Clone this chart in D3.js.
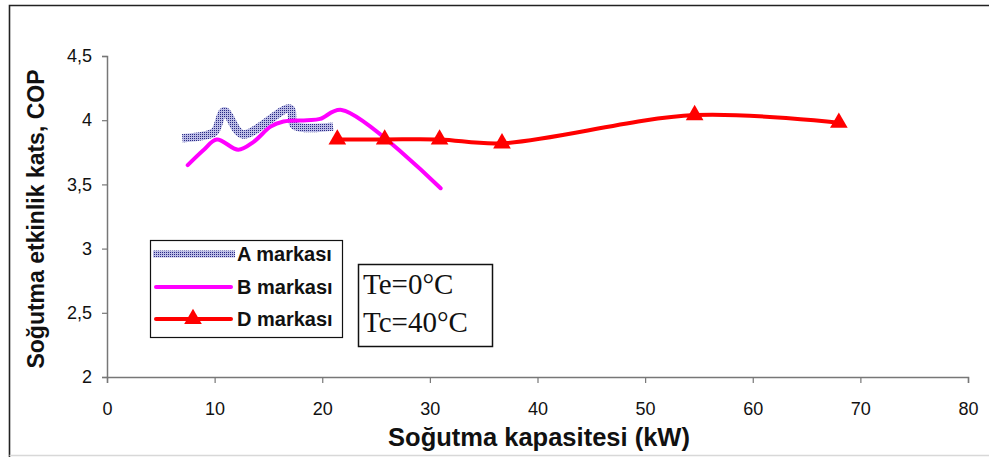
<!DOCTYPE html>
<html>
<head>
<meta charset="utf-8">
<script src="https://cdn.jsdelivr.net/npm/d3@7"></script>
<style>
  html, body { margin: 0; padding: 0; background: #fff; }
  svg { display: block; font-family: "Liberation Sans", Arial, sans-serif; }
</style>
</head>
<body>
<div id="chart"></div>
<script>
// Cooling capacity (kW) vs. COP for three compressor brands
const capA = [7.0, 9.0, 10.0, 10.9, 12.6, 17.0, 17.4, 21.0];
const copA = [3.86, 3.88, 3.91, 4.07, 3.89, 4.09, 3.96, 3.95];

const capB = [7.5, 9.0, 10.2, 12.2, 13.6, 15.2, 16.4, 18.6, 19.8, 21.8, 31.0];
const copB = [3.65, 3.77, 3.85, 3.77, 3.83, 3.95, 3.99, 4.00, 4.01, 4.08, 3.47];

const capD = [21.4, 25.8, 30.9, 36.7, 54.6, 68.0];
const copD = [3.85, 3.85, 3.85, 3.82, 4.04, 3.98];

const xTicks = [0, 10, 20, 30, 40, 50, 60, 70, 80];
const yTicks = [2, 2.5, 3, 3.5, 4, 4.5];

const seriesNames = ["A markası", "B markası", "D markası"];
const conditionLines = ["Te=0°C", "Tc=40°C"];
const xTitle = "Soğutma kapasitesi (kW)";
const yTitle = "Soğutma etkinlik kats, COP";

const W = 989, H = 457;
const SANS = "'Liberation Sans', Arial, sans-serif";
const SERIF = "'Liberation Serif', 'Times New Roman', serif";
const svg = d3.select("#chart").append("svg").attr("width", W).attr("height", H);

// dotted fill used for the A series band
const defs = svg.append("defs");
const pat = defs.append("pattern").attr("id", "dotsA")
  .attr("patternUnits", "userSpaceOnUse").attr("width", 2).attr("height", 2);
pat.append("rect").attr("width", 2).attr("height", 2).attr("fill", "#bcbde6");
pat.append("rect").attr("width", 1).attr("height", 1).attr("fill", "#2a2a84");

// outer frame
svg.append("path").attr("d", `M9.5,${H} V5.5 H${W}`)
  .attr("fill", "none").attr("stroke", "#222").attr("stroke-width", 1.6);
svg.append("line").attr("x1", 9.5).attr("x2", W).attr("y1", 455.5).attr("y2", 455.5)
  .attr("stroke", "#d8d8d8").attr("stroke-width", 1.5);

const x = d3.scaleLinear().domain([0, 80]).range([107, 968]);
const y = d3.scaleLinear().domain([2, 4.5]).range([377, 56]);

const fmt = v => String(v).replace(".", ",");

const gx = svg.append("g").attr("transform", `translate(0,${y(2)})`)
  .call(d3.axisBottom(x).tickValues(xTicks).tickSize(6).tickPadding(19).tickFormat(fmt));
const gy = svg.append("g").attr("transform", `translate(${x(0)},0)`)
  .call(d3.axisLeft(y).tickValues(yTicks).tickSize(5).tickPadding(10).tickFormat(fmt));
[gx, gy].forEach(g => {
  g.attr("font-family", null).attr("font-size", null);
  g.select(".domain").attr("stroke", "#777").attr("stroke-width", 1.5);
  g.selectAll(".tick line").attr("stroke", "#777").attr("stroke-width", 1.2);
  g.selectAll(".tick text").attr("fill", "#111").style("font-family", SANS);
});
gx.selectAll(".tick text").style("font-size", "18px");
gy.selectAll(".tick text").style("font-size", "18px");

// axis titles
svg.append("text").attr("x", 539).attr("y", 446).attr("text-anchor", "middle")
  .style("font-family", SANS).style("font-size", "25.5px").style("font-weight", "bold")
  .attr("fill", "#111").text(xTitle);
svg.append("text").attr("transform", "translate(44,219) rotate(-90)")
  .attr("text-anchor", "middle").style("font-family", SANS).style("font-size", "23px")
  .style("font-weight", "bold").attr("fill", "#111").text(yTitle);

const line = d3.line().x(d => x(d[0])).y(d => y(d[1])).curve(d3.curveCatmullRom.alpha(0.5));
const dataA = capA.map((c, i) => [c, copA[i]]);
const dataB = capB.map((c, i) => [c, copB[i]]);
const dataD = capD.map((c, i) => [c, copD[i]]);

svg.append("path").datum(dataA).attr("d", line).attr("fill", "none")
  .attr("stroke", "url(#dotsA)").attr("stroke-width", 8.5);
svg.append("path").datum(dataB).attr("d", line).attr("fill", "none")
  .attr("stroke", "#ff00ff").attr("stroke-width", 4).attr("stroke-linecap", "round");
svg.append("path").datum(dataD).attr("d", line).attr("fill", "none")
  .attr("stroke", "#ff0000").attr("stroke-width", 4);

const tri = d3.symbol().type(d3.symbolTriangle).size(135);
svg.append("g").selectAll("path").data(dataD).join("path")
  .attr("transform", d => `translate(${x(d[0])},${y(d[1])})`)
  .attr("d", tri).attr("fill", "#ff0000");

// legend
const lg = svg.append("g");
lg.append("rect").attr("x", 150.5).attr("y", 240.5).attr("width", 192).attr("height", 97)
  .attr("fill", "#fff").attr("stroke", "#111").attr("stroke-width", 1.2);
const rows = [254, 287, 319];
lg.append("line").attr("x1", 153).attr("x2", 235).attr("y1", rows[0]).attr("y2", rows[0])
  .attr("stroke", "url(#dotsA)").attr("stroke-width", 7);
lg.append("line").attr("x1", 156).attr("x2", 231).attr("y1", rows[1]).attr("y2", rows[1])
  .attr("stroke", "#ff00ff").attr("stroke-width", 4).attr("stroke-linecap", "round");
lg.append("line").attr("x1", 156).attr("x2", 231).attr("y1", rows[2]).attr("y2", rows[2])
  .attr("stroke", "#ff0000").attr("stroke-width", 4).attr("stroke-linecap", "round");
lg.append("path").attr("transform", `translate(193,${rows[2]})`).attr("d", tri).attr("fill", "#ff0000");
seriesNames.forEach((n, i) => {
  lg.append("text").attr("x", 237).attr("y", rows[i] + 7)
    .style("font-family", SANS).style("font-size", "20px").style("font-weight", "bold")
    .attr("fill", "#111").text(n);
});

// operating conditions box
const cb = svg.append("g");
cb.append("rect").attr("x", 358.5).attr("y", 264.5).attr("width", 134).attr("height", 82)
  .attr("fill", "#fff").attr("stroke", "#111").attr("stroke-width", 1.5);
conditionLines.forEach((t, i) => {
  cb.append("text").attr("x", 363).attr("y", 294 + i * 38)
    .style("font-family", SERIF).style("font-size", "29px")
    .attr("fill", "#111").text(t);
});
</script>
</body>
</html>
